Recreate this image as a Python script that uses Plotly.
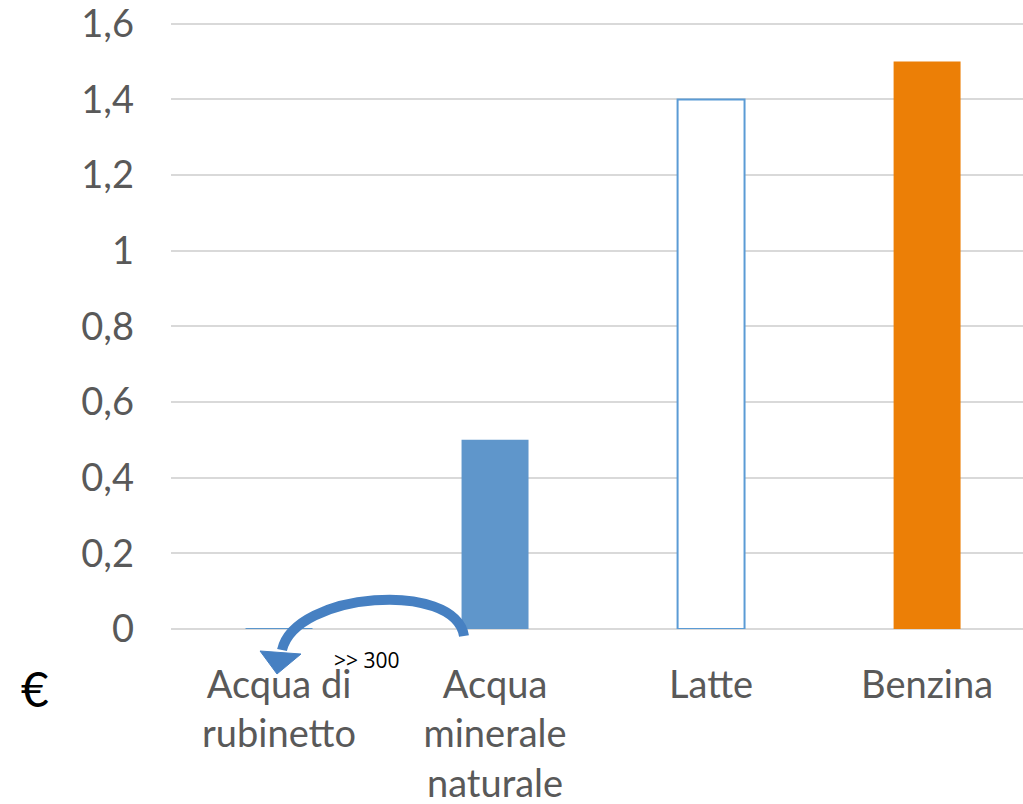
import plotly.graph_objects as go

# Prezzo al litro (euro)
categorie = ["Acqua di<br>rubinetto", "Acqua<br>minerale<br>naturale", "Latte", "Benzina"]
prezzi = [0.002, 0.5, 1.4, 1.5]
colori_barre = ["#5B96CC", "#5F96CB", "#FFFFFF", "#EC7F06"]
bordi_barre = ["#5B96CC", "#5F96CB", "#5B9BD5", "#EC7F06"]
spessori_bordi = [0, 0, 2, 0]

tick_vals = [0, 0.2, 0.4, 0.6, 0.8, 1.0, 1.2, 1.4, 1.6]
tick_text = ["0", "0,2", "0,4", "0,6", "0,8", "1", "1,2", "1,4", "1,6"]

W, H = 1023, 804
ML, MR, MT, MB = 171, 0, 20, 175

fig = go.Figure(
    go.Bar(
        x=list(range(len(categorie))),
        y=prezzi,
        width=0.31,
        marker=dict(color=colori_barre,
                    line=dict(color=bordi_barre, width=spessori_bordi)),
        hoverinfo="skip",
    )
)

# conversion helpers: pixel position -> paper coordinates
pw, ph = W - ML - MR, H - MT - MB


def px(x):
    return (x - ML) / pw


def py(y):
    return (H - MB - y) / ph


def pt(x, y):
    return f"{px(x):.4f},{py(y):.4f}"


# curved arrow from the mineral water bar towards tap water
shaft = (f"M {pt(464, 636)} C {pt(455, 580)} {pt(295, 592)} {pt(282, 650)}")
head = f"M {pt(277, 674)} L {pt(260, 651)} L {pt(301, 654)} Z"

fig.add_shape(type="path", path=shaft, xref="paper", yref="paper",
              line=dict(color="#4680C2", width=10), fillcolor="rgba(0,0,0,0)")
fig.add_shape(type="path", path=head, xref="paper", yref="paper",
              line=dict(color="#4680C2", width=1), fillcolor="#4680C2")

fig.add_annotation(text=">> 300", x=px(367), y=py(660), xref="paper", yref="paper",
                   xanchor="center", yanchor="middle",
                   showarrow=False, font=dict(family="Open Sans", size=21, color="#000000"))
fig.add_annotation(text="€", x=px(35), y=py(688), xref="paper", yref="paper",
                   xanchor="center", yanchor="middle",
                   showarrow=False, font=dict(family="Lato", size=48, color="#000000"))

fig.update_layout(
    width=W, height=H,
    margin=dict(l=ML, r=MR, t=MT, b=MB),
    plot_bgcolor="#FFFFFF", paper_bgcolor="#FFFFFF",
    showlegend=False,
    font=dict(family="Lato", size=38, color="#595959"),
    xaxis=dict(
        tickvals=list(range(len(categorie))), ticktext=categorie,
        range=[-0.5, 3.444], showgrid=False, zeroline=False,
        showline=False, ticks="", ticklabelstandoff=30,
        automargin=False, ticklabeloverflow="allow",
        tickfont=dict(size=38, color="#595959"),
    ),
    yaxis=dict(
        range=[0, 1.61], tickvals=tick_vals, ticktext=tick_text,
        showgrid=True, gridcolor="#D9D9D9", gridwidth=2,
        zeroline=True, zerolinecolor="#D9D9D9", zerolinewidth=2,
        showline=False, ticks="", ticklabelstandoff=36,
        automargin=False, ticklabeloverflow="allow",
        tickfont=dict(size=38, color="#595959"),
    ),
)

fig.write_html("out.html")
